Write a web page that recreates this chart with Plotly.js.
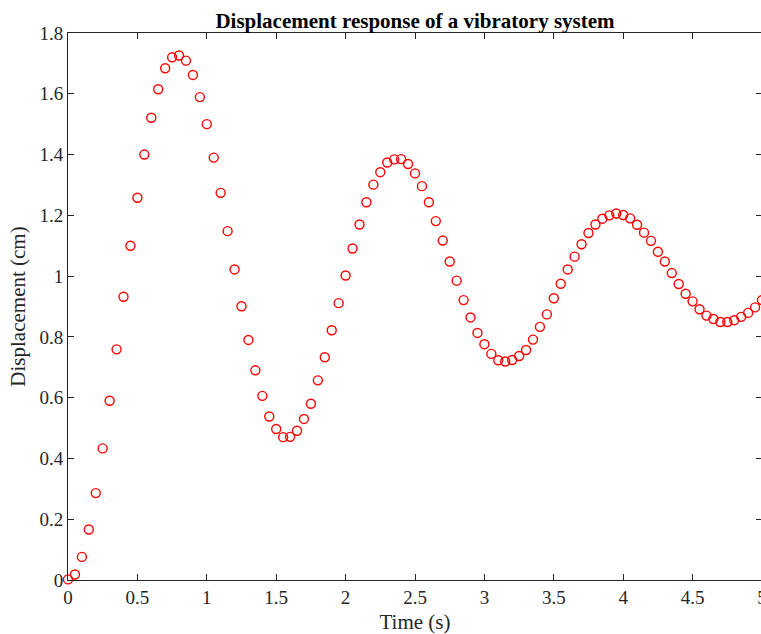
<!DOCTYPE html>
<html>
<head>
<meta charset="utf-8">
<script src="https://cdn.plot.ly/plotly-3.0.1.min.js"></script>
<style>
html, body { margin: 0; padding: 0; overflow: hidden; background: #fff; }
#chart { width: 765px; height: 634px; }
</style>
</head>
<body>
<div id="chart"></div>
<script>
// Time samples (s)
const time = [
  0.00, 0.05, 0.10, 0.15, 0.20, 0.25, 0.30, 0.35, 0.40, 0.45,
  0.50, 0.55, 0.60, 0.65, 0.70, 0.75, 0.80, 0.85, 0.90, 0.95,
  1.00, 1.05, 1.10, 1.15, 1.20, 1.25, 1.30, 1.35, 1.40, 1.45,
  1.50, 1.55, 1.60, 1.65, 1.70, 1.75, 1.80, 1.85, 1.90, 1.95,
  2.00, 2.05, 2.10, 2.15, 2.20, 2.25, 2.30, 2.35, 2.40, 2.45,
  2.50, 2.55, 2.60, 2.65, 2.70, 2.75, 2.80, 2.85, 2.90, 2.95,
  3.00, 3.05, 3.10, 3.15, 3.20, 3.25, 3.30, 3.35, 3.40, 3.45,
  3.50, 3.55, 3.60, 3.65, 3.70, 3.75, 3.80, 3.85, 3.90, 3.95,
  4.00, 4.05, 4.10, 4.15, 4.20, 4.25, 4.30, 4.35, 4.40, 4.45,
  4.50, 4.55, 4.60, 4.65, 4.70, 4.75, 4.80, 4.85, 4.90, 4.95,
  5.00
];
// Displacement (cm)
const displacement = [
  0.002, 0.018, 0.076, 0.166, 0.286, 0.433, 0.590, 0.759, 0.932, 1.100,
  1.258, 1.400, 1.521, 1.615, 1.684, 1.720, 1.726, 1.709, 1.662, 1.589,
  1.500, 1.390, 1.274, 1.148, 1.022, 0.901, 0.790, 0.690, 0.606, 0.538,
  0.497, 0.470, 0.471, 0.491, 0.530, 0.580, 0.657, 0.733, 0.822, 0.911,
  1.002, 1.091, 1.170, 1.243, 1.301, 1.342, 1.374, 1.384, 1.385, 1.369,
  1.338, 1.296, 1.243, 1.181, 1.117, 1.048, 0.985, 0.921, 0.864, 0.813,
  0.776, 0.744, 0.723, 0.719, 0.724, 0.737, 0.757, 0.791, 0.833, 0.874,
  0.927, 0.975, 1.022, 1.064, 1.105, 1.142, 1.170, 1.189, 1.200, 1.206,
  1.201, 1.190, 1.169, 1.143, 1.116, 1.080, 1.048, 1.010, 0.974, 0.942,
  0.917, 0.891, 0.870, 0.859, 0.849, 0.849, 0.855, 0.866, 0.879, 0.897,
  0.921
];
const xTickVals = [0, 0.5, 1, 1.5, 2, 2.5, 3, 3.5, 4, 4.5, 5];
const xTickText = ['0', '0.5', '1', '1.5', '2', '2.5', '3', '3.5', '4', '4.5', '5'];
const yTickVals = [0, 0.2, 0.4, 0.6, 0.8, 1, 1.2, 1.4, 1.6, 1.8];
const yTickText = ['0', '0.2', '0.4', '0.6', '0.8', '1', '1.2', '1.4', '1.6', '1.8'];

const serif = 'Liberation Serif, Times New Roman, serif';
const axisColor = '#262626';

const trace = {
  x: time,
  y: displacement,
  type: 'scatter',
  mode: 'markers',
  marker: {
    symbol: 'circle-open',
    size: 9,
    color: '#ff0000',
    line: { color: '#ff0000', width: 1.4 }
  },
  cliponaxis: false,
  hoverinfo: 'x+y'
};

const axisCommon = {
  showline: true,
  linecolor: axisColor,
  linewidth: 1,
  mirror: 'ticks',
  ticks: 'inside',
  ticklen: 6,
  tickwidth: 1,
  tickcolor: axisColor,
  showgrid: false,
  zeroline: false,
  tickfont: { family: serif, size: 19, color: axisColor },
  ticklabeloverflow: 'allow',
  automargin: false,
  fixedrange: true
};

const layout = {
  width: 765,
  height: 634,
  paper_bgcolor: '#ffffff',
  plot_bgcolor: '#ffffff',
  showlegend: false,
  margin: { l: 68, r: 3, t: 33, b: 54, pad: 0 },
  title: {
    text: '<b>Displacement response of a vibratory system</b>',
    font: { family: serif, size: 21, color: '#000000' },
    x: 0.5,
    xref: 'paper',
    xanchor: 'center',
    y: 1,
    yref: 'paper',
    yanchor: 'bottom',
    pad: { b: 5 }
  },
  xaxis: Object.assign({}, axisCommon, {
    range: [0, 5],
    tickvals: xTickVals,
    ticktext: xTickText,
    title: { text: 'Time (s)', font: { family: serif, size: 21, color: axisColor }, standoff: 9 }
  }),
  yaxis: Object.assign({}, axisCommon, {
    range: [0, 1.8],
    tickvals: yTickVals,
    ticktext: yTickText,
    title: { text: 'Displacement (cm)', font: { family: serif, size: 21, color: axisColor }, standoff: 8 }
  })
};

Plotly.newPlot('chart', [trace], layout, { displayModeBar: false, staticPlot: true });
</script>
</body>
</html>
